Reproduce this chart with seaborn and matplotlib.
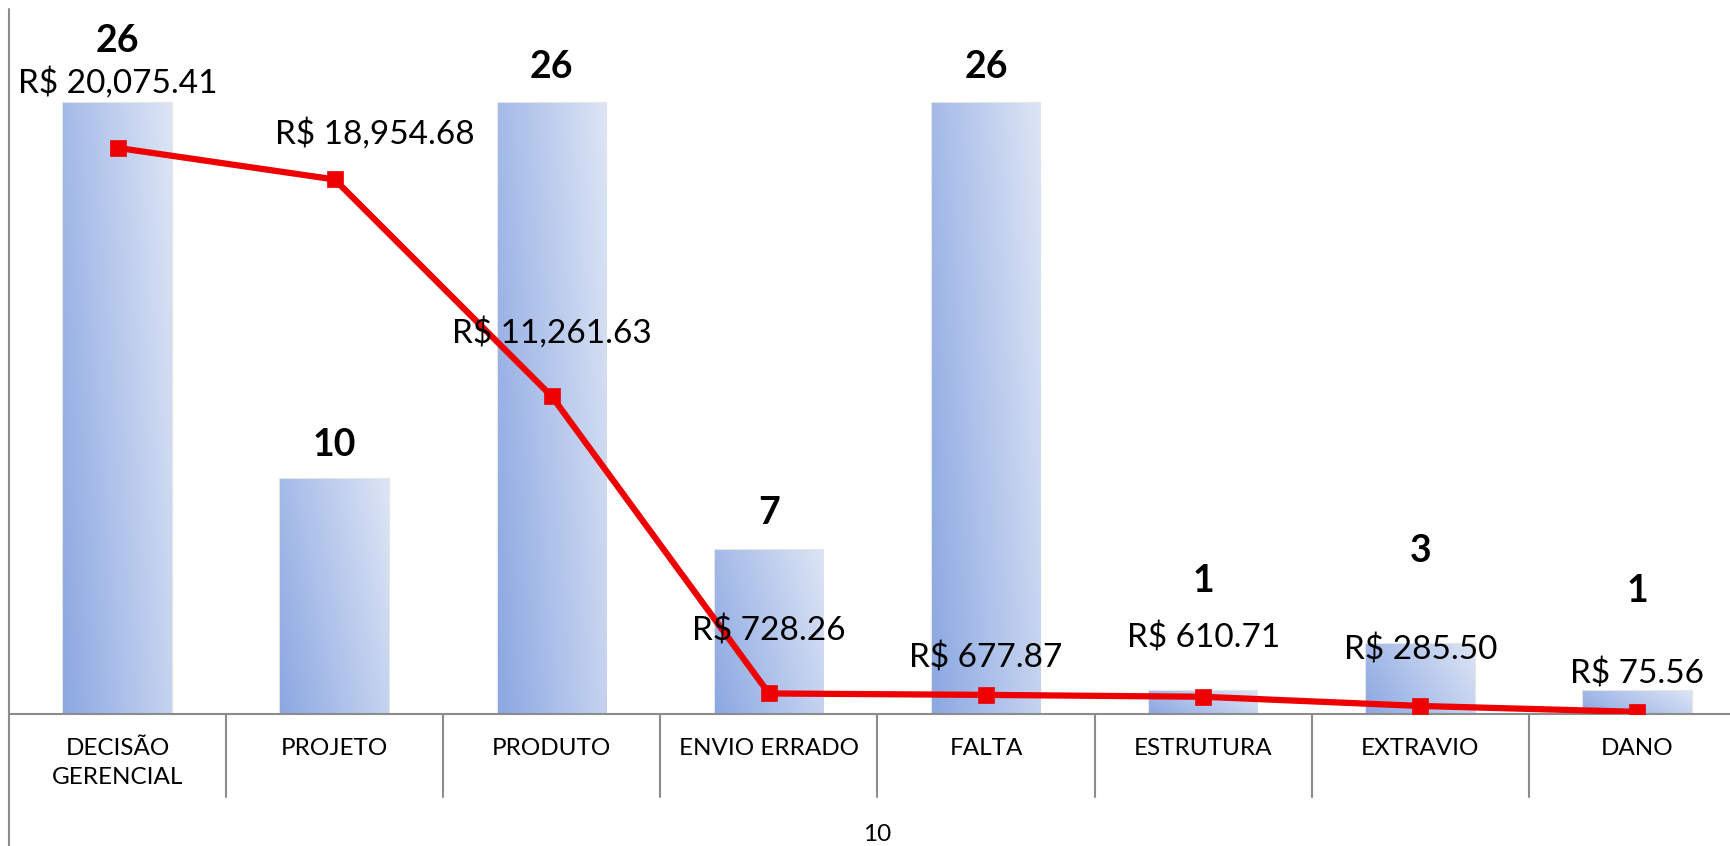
import numpy as np
import pandas as pd
import matplotlib
matplotlib.use('Agg')
import matplotlib.pyplot as plt
import seaborn as sns
from matplotlib.colors import LinearSegmentedColormap
from matplotlib.lines import Line2D

categories = ['DECISÃO\nGERENCIAL', 'PROJETO', 'PRODUTO', 'ENVIO ERRADO',
              'FALTA', 'ESTRUTURA', 'EXTRAVIO', 'DANO']
counts = [26, 10, 26, 7, 26, 1, 3, 1]
costs = [20075.41, 18954.68, 11261.63, 728.26, 677.87, 610.71, 285.50, 75.56]
x_label = '10'

# label offsets in pixels (layout only)
count_dy = [62, 34, 36, 36, 36, 110, 93, 100]
cost_dx = [0, 40, 0, 0, 0, 0, 0, 0]
cost_dy = [65, 46, 64, 62, 37, 59, 56, 38]

sns.set_theme(style='white')
plt.rcParams['font.family'] = ['Lato', 'DejaVu Sans']

df = pd.DataFrame({'categoria': categories, 'qtd': counts, 'custo': costs})

W, H = 1731, 846
fig = plt.figure(figsize=(W / 100, H / 100), dpi=100)
ax = fig.add_axes([9 / W, 132 / H, 1737 / W, 705 / H])

sns.barplot(data=df, x='categoria', y='qtd', ax=ax, width=0.5,
            color='#A9BFE9', edgecolor='#E6E6E6', linewidth=1.5, zorder=2)

# diagonal gradient fill for each bar
cmap = LinearSegmentedColormap.from_list('grad', ['#8CA8E2', '#DDE5F5'])
u, v = np.meshgrid(np.linspace(0, 1, 60), np.linspace(1, 0, 60))
grad = (u * 0.7 + v * 0.3)
for patch in ax.patches:
    x0, y0 = patch.get_x(), patch.get_y()
    w, h = patch.get_width(), patch.get_height()
    im = ax.imshow(grad, cmap=cmap, extent=[x0, x0 + w, y0, y0 + h],
                   aspect='auto', zorder=2.5, interpolation='bicubic')
    im.set_clip_path(patch)

ax.set_xlim(-0.5, len(categories) - 0.5)
ax.set_ylim(0, 30)
ax.set_yticks([])
ax.set_ylabel('')

for i, val in enumerate(counts):
    ax.annotate(str(val), (i, val), xytext=(0, count_dy[i]),
                textcoords='offset pixels', ha='center', va='center',
                fontsize=27, fontweight='bold', color='black')

ax2 = ax.twinx()
sns.pointplot(data=df, x='categoria', y='custo', ax=ax2, color='#EE0000',
              markers='s', markersize=9, linewidth=4.5, zorder=3)
ax2.set_ylim(0, 25000)
ax2.set_yticks([])
ax2.set_ylabel('')
ax2.set_xlim(-0.5, len(categories) - 0.5)

for i, val in enumerate(costs):
    ax2.annotate(f'R$ {val:,.2f}', (i, val), xytext=(cost_dx[i], cost_dy[i]),
                 textcoords='offset pixels', ha='center', va='center',
                 fontsize=24, color='black', zorder=5)

for a in (ax, ax2):
    for side in ('top', 'right', 'left'):
        a.spines[side].set_visible(False)
ax2.spines['bottom'].set_visible(False)
ax.spines['bottom'].set_color('#8C8C8C')
ax.spines['bottom'].set_linewidth(1.5)

ax.set_xticks(range(len(categories)))
ax.set_xticklabels(categories, fontsize=17.5, color='black')
ax.tick_params(axis='x', length=0, pad=17)
for lbl in ax.get_xticklabels():
    lbl.set_linespacing(1.5)
ax2.tick_params(axis='x', length=0, labelbottom=False)
ax2.set_xlabel('')

# category separators below the baseline
sep_h = (797 - 714) / 705
for b in np.arange(0.5, len(categories) - 0.5, 1):
    ax.plot([b, b], [0, -sep_h], transform=ax.get_xaxis_transform(),
            color='#8C8C8C', linewidth=1.5, clip_on=False)

# left vertical rule down the full height
fig.add_artist(Line2D([9 / W, 9 / W], [0, 1 - 9 / H], color='#8C8C8C',
                      linewidth=1.5))

ax.set_xlabel(x_label, fontsize=17.5, color='black')
ax.xaxis.set_label_coords(0.5, -(834 - 714) / 705)
ax.xaxis.label.set_va('center')

fig.savefig('out.png', dpi=100)
